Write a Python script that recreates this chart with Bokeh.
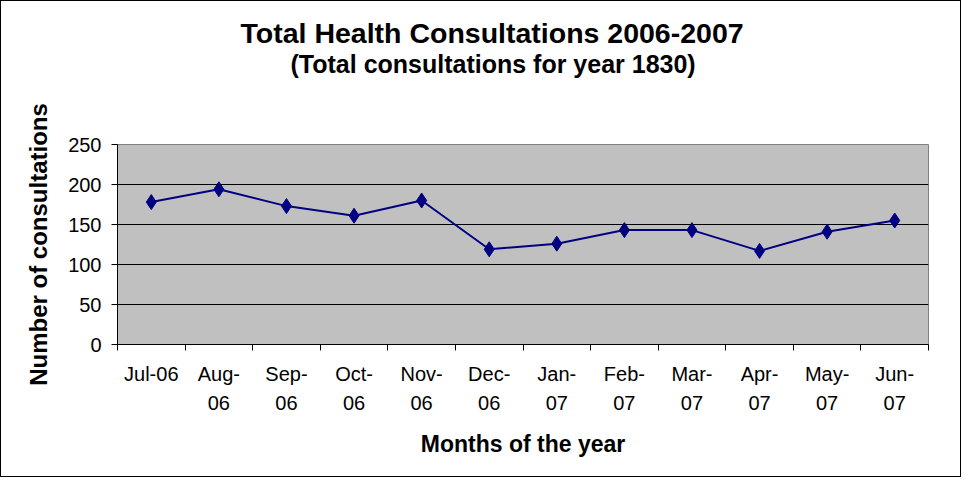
from bokeh.plotting import figure
from bokeh.models import Range1d, FixedTicker, Title
from bokeh.embed import file_html
from bokeh.resources import INLINE

months = ["Jul-06", "Aug-06", "Sep-06", "Oct-06", "Nov-06", "Dec-06",
          "Jan-07", "Feb-07", "Mar-07", "Apr-07", "May-07", "Jun-07"]
tick_labels = ["Jul-06", "Aug-\n06", "Sep-\n06", "Oct-\n06", "Nov-\n06", "Dec-\n06",
               "Jan-\n07", "Feb-\n07", "Mar-\n07", "Apr-\n07", "May-\n07", "Jun-\n07"]
consultations = [178, 194, 173, 161, 180, 119, 126, 143, 143, 117, 141, 155]
y_ticks = [0, 50, 100, 150, 200, 250]

title_text = "Total Health Consultations 2006-2007"
subtitle_text = "(Total consultations for year 1830)"
x_title = "Months of the year"
y_title = "Number of consultations"

FONT = "Liberation Sans"

xs = [i + 0.5 for i in range(len(months))]

p = figure(width=961, height=477, output_backend="svg", toolbar_location=None,
           x_range=Range1d(0, len(months)), y_range=Range1d(0, 250),
           min_border_left=116, min_border_right=34, min_border_top=143,
           min_border_bottom=134)
p.styles = {"border": "1px solid #000000"}
p.title.text = ""
p.background_fill_color = "#C0C0C0"
p.border_fill_color = "#FFFFFF"
p.outline_line_color = "#808080"
p.outline_line_width = 1

# spacer panel between frame and subtitle, then subtitle, then main title
spacer = Title(text=" ", text_font=FONT, text_font_size="10px", standoff=54)
sub = Title(text=subtitle_text, align="left", offset=173, text_font=FONT,
            text_color="#000000", text_font_size="25px", text_font_style="bold",
            standoff=0)
main = Title(text=title_text, align="left", offset=123, text_font=FONT,
             text_color="#000000", text_font_size="28.5px", text_font_style="bold",
             standoff=-2)
p.add_layout(spacer, "above")
p.add_layout(sub, "above")
p.add_layout(main, "above")

# grid
p.xgrid.visible = False
p.ygrid.ticker = FixedTicker(ticks=y_ticks)
p.ygrid.grid_line_color = "#000000"
p.ygrid.grid_line_width = 1

# y axis
p.yaxis.ticker = FixedTicker(ticks=y_ticks)
p.yaxis.axis_line_color = "#000000"
p.yaxis.major_tick_line_color = "#000000"
p.yaxis.major_tick_out = 6
p.yaxis.major_tick_in = 0
p.yaxis.minor_tick_line_color = None
p.yaxis.major_label_text_font = FONT
p.yaxis.major_label_text_font_size = "20px"
p.yaxis.major_label_text_color = "#000000"
p.yaxis.major_label_standoff = 10
p.yaxis.axis_label = y_title
p.yaxis.axis_label_text_font = FONT
p.yaxis.axis_label_text_font_size = "24px"
p.yaxis.axis_label_text_font_style = "bold"
p.yaxis.axis_label_text_color = "#000000"
p.yaxis.axis_label_standoff = 13

# x axis
p.xaxis.ticker = FixedTicker(ticks=xs, minor_ticks=list(range(len(months) + 1)))
p.xaxis.major_label_overrides = {x: lab for x, lab in zip(xs, tick_labels)}
p.xaxis.axis_line_color = "#000000"
p.xaxis.major_tick_line_color = None
p.xaxis.minor_tick_line_color = "#000000"
p.xaxis.minor_tick_out = 6
p.xaxis.minor_tick_in = 0
p.xaxis.major_label_text_font = FONT
p.xaxis.major_label_text_font_size = "20px"
p.xaxis.major_label_text_line_height = 1.35
p.xaxis.major_label_text_color = "#000000"
p.xaxis.major_label_standoff = 12
p.xaxis.axis_label = x_title
p.xaxis.axis_label_text_font = FONT
p.xaxis.axis_label_text_font_size = "23px"
p.xaxis.axis_label_text_font_style = "bold"
p.xaxis.axis_label_text_color = "#000000"
p.xaxis.axis_label_standoff = 14

p.line(xs, consultations, line_color="#000080", line_width=2)
p.scatter(xs, consultations, marker="diamond", size=15, fill_color="#000080",
          line_color="#000080")

open("out.html", "w").write(file_html(p, INLINE))
